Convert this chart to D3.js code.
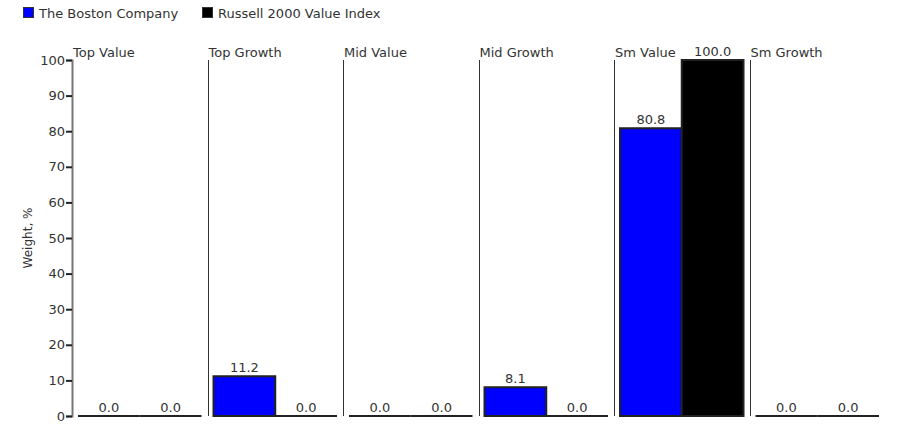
<!DOCTYPE html>
<html>
<head>
<meta charset="utf-8">
<script src="https://cdn.jsdelivr.net/npm/d3@7"></script>
<style>
  body { margin: 0; background: #fff; }
  svg text { font-family: "DejaVu Sans", Verdana, sans-serif; fill: #333; }
</style>
</head>
<body>
<svg id="chart" width="897" height="425"></svg>
<script>
const categories = ["Top Value", "Top Growth", "Mid Value", "Mid Growth", "Sm Value", "Sm Growth"];
const seriesNames = ["The Boston Company", "Russell 2000 Value Index"];
const bostonValues = [0.0, 11.2, 0.0, 8.1, 80.8, 0.0];
const russellValues = [0.0, 0.0, 0.0, 0.0, 100.0, 0.0];
const yTicks = [0, 10, 20, 30, 40, 50, 60, 70, 80, 90, 100];
const colors = ["#0000ff", "#000000"];

const rows = categories.map((c, i) => ({
    category: c,
    values: [bostonValues[i], russellValues[i]]
}));

const xLeft = 72, xRight = 885, yTop = 60, yBottom = 416;

const svg = d3.select("#chart");

const xScale = d3.scaleBand(categories, [xLeft, xRight]).paddingInner(0).paddingOuter(0);
const yScale = d3.scaleLinear([0, 100], [yBottom, yTop]);
const inner = d3.scaleBand([0, 1], [6, xScale.bandwidth() - 6]);

// legend
const legend = svg.append("g").attr("font-size", "13px");
const legendX = [23, 202];
seriesNames.forEach((name, i) => {
    legend.append("rect")
        .attr("x", legendX[i] + 0.5)
        .attr("y", 7.5)
        .attr("width", 10)
        .attr("height", 10)
        .attr("fill", colors[i])
        .attr("stroke", "#333")
        .attr("stroke-width", 1);
    legend.append("text")
        .attr("x", legendX[i] + 16)
        .attr("y", 18)
        .text(name);
});

// separators between groups
svg.selectAll(".sep")
    .data(categories.slice(1))
    .enter()
    .append("line")
    .attr("class", "sep")
    .attr("x1", d => Math.round(xScale(d)) + 0.5)
    .attr("x2", d => Math.round(xScale(d)) + 0.5)
    .attr("y1", yScale(100))
    .attr("y2", yScale(0))
    .attr("stroke", "#333")
    .attr("stroke-width", 1);

// category labels
svg.selectAll(".cat")
    .data(categories)
    .enter()
    .append("text")
    .attr("class", "cat")
    .attr("x", d => xScale(d) + 1)
    .attr("y", 57)
    .attr("font-size", "13px")
    .text(d => d);

// bars (paths so zero values still show their outline)
const groups = svg.selectAll(".grp")
    .data(rows)
    .enter()
    .append("g")
    .attr("class", "grp")
    .attr("transform", d => `translate(${xScale(d.category)},0)`);

groups.selectAll("path")
    .data(d => d.values)
    .enter()
    .append("path")
    .attr("d", (d, i) => {
        const x = inner(i), w = inner.bandwidth();
        const y = yScale(d), h = yScale(0) - yScale(d);
        return `M${x},${y}h${w}v${h}h${-w}Z`;
    })
    .attr("fill", (d, i) => colors[i])
    .attr("stroke", "#222")
    .attr("stroke-width", 2);

groups.selectAll(".val")
    .data(d => d.values)
    .enter()
    .append("text")
    .attr("class", "val")
    .attr("x", (d, i) => inner(i) + inner.bandwidth() / 2)
    .attr("y", d => yScale(d) - 4)
    .attr("text-anchor", "middle")
    .attr("font-size", "13px")
    .text(d => d.toFixed(1));

// y axis
const yAxis = d3.axisLeft(yScale).tickValues(yTicks).tickSize(6).tickPadding(1);
const ya = svg.append("g")
    .attr("transform", `translate(${xLeft},0)`)
    .call(yAxis);
ya.select(".domain").attr("stroke", "#777").attr("stroke-width", 2);
ya.selectAll(".tick line").attr("stroke", "#222").attr("stroke-width", 2);
ya.selectAll("text")
    .attr("font-size", "13px")
    .attr("font-family", "DejaVu Sans, Verdana, sans-serif")
    .attr("fill", "#333");

svg.append("text")
    .attr("transform", `translate(32,${(yTop + yBottom) / 2}) rotate(-90)`)
    .attr("text-anchor", "middle")
    .attr("font-size", "12px")
    .text("Weight, %");
</script>
</body>
</html>
